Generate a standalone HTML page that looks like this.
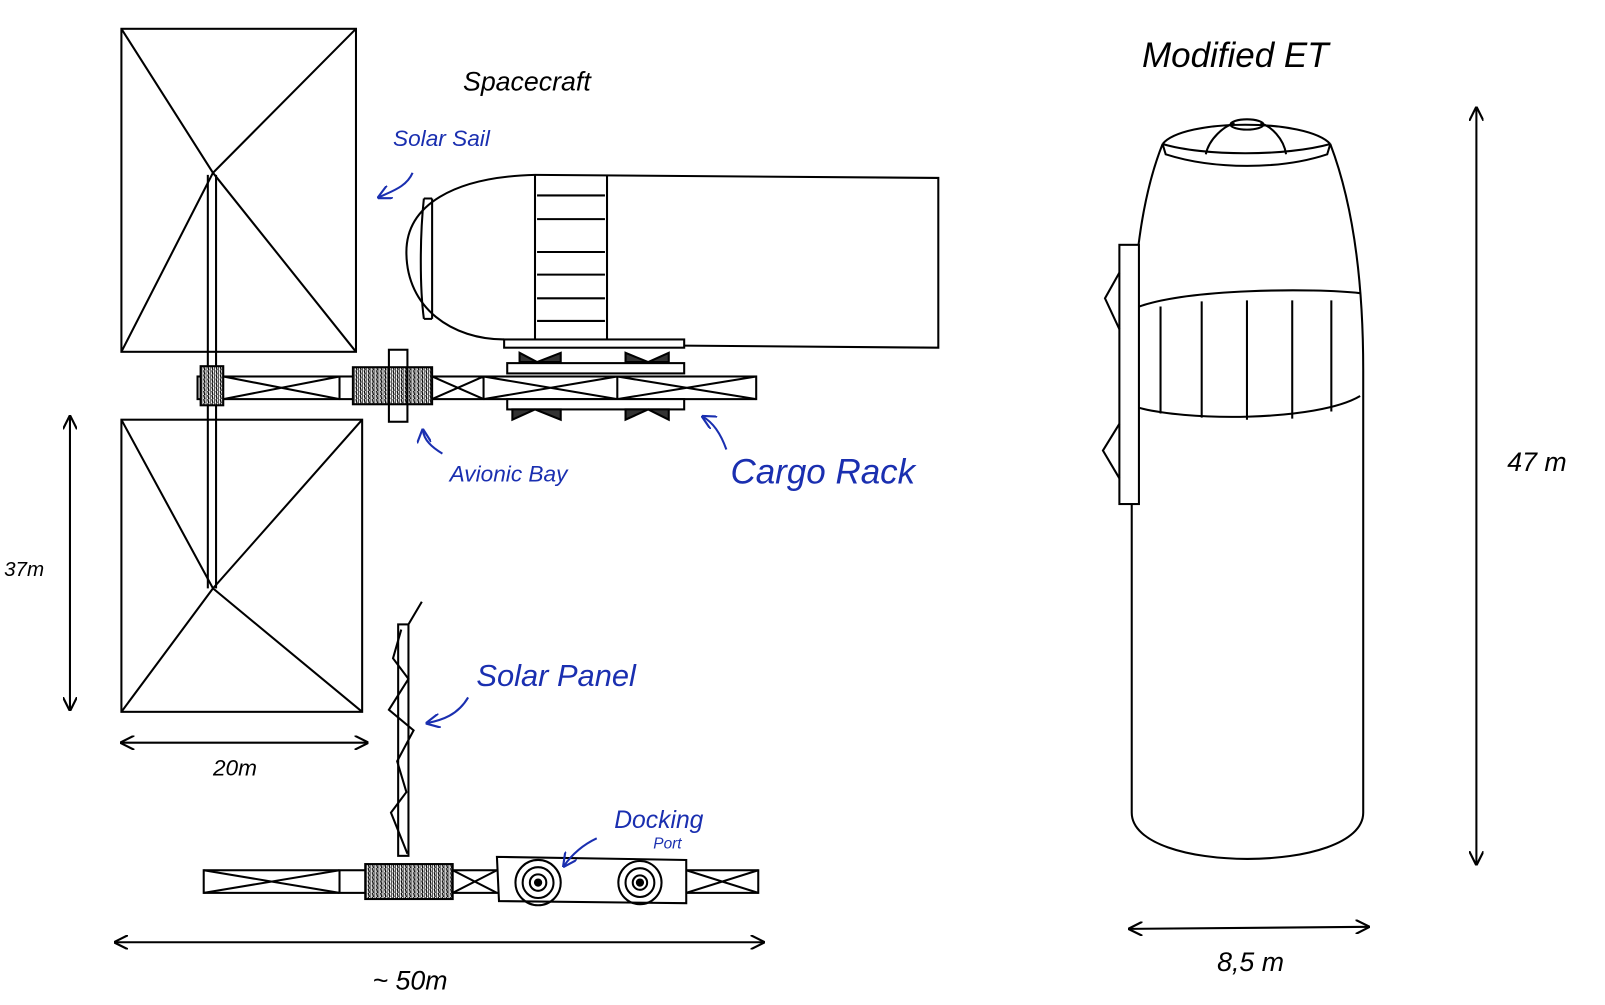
<!DOCTYPE html>
<html><head><meta charset="utf-8"><style>
html,body{margin:0;padding:0;background:#fff;}
svg{display:block;}
text{font-family:"Liberation Sans",sans-serif;font-style:italic;}
.b{fill:#1a2fb0;}
</style></head><body>
<svg width="1605" height="1005" viewBox="0 0 1560 977" preserveAspectRatio="none" xmlns="http://www.w3.org/2000/svg">
<defs>
<marker id="ah" viewBox="0 0 10 10" refX="9" refY="5" markerWidth="7" markerHeight="7" orient="auto-start-reverse"><path d="M0,0 L10,5 L0,10" fill="none" stroke="#000" stroke-width="1.5"/></marker>
<marker id="bh" viewBox="0 0 10 10" refX="9" refY="5" markerWidth="7" markerHeight="7" orient="auto"><path d="M0,0 L10,5 L0,10" fill="none" stroke="#1a2fb0" stroke-width="1.5"/></marker>
<pattern id="hatch" width="4" height="4" patternUnits="userSpaceOnUse"><rect width="4" height="4" fill="#fff"/><path d="M0,0 L0,4 M2,0 L3,4" stroke="#000" stroke-width="1.3"/></pattern>
</defs>
<g fill="none" stroke="#000" stroke-width="2">
<!-- top sail -->
<rect x="118" y="28" width="228" height="314"/>
<path d="M118,28 L207,168 L346,28 M118,342 L207,168 L346,342"/>
<!-- mast -->
<path d="M202,170 V572 M210,170 V572"/>
<!-- bottom sail -->
<rect x="118" y="408" width="234" height="284"/>
<path d="M118,408 L207,572 L352,408 M118,692 L207,572 L352,692"/>
<!-- top truss -->
<rect x="192" y="366" width="543" height="22"/>
<path d="M217,366 L330,388 M217,388 L330,366 M330,366V388 M420,366 L470,388 M420,388 L470,366 M470,366V388 M470,366 L600,388 M470,388 L600,366 M600,366V388 M600,366 L735,388 M600,388 L735,366"/>
<rect x="195" y="356" width="22" height="38" fill="url(#hatch)"/>
<rect x="343" y="357" width="77" height="36" fill="url(#hatch)"/>
<rect x="378" y="340" width="18" height="70"/>
<!-- cargo rack -->
<rect x="493" y="353" width="172" height="10" fill="#fff"/>
<rect x="493" y="388" width="172" height="10" fill="#fff"/>
<path d="M505,343 L522,352 L545,343 L545,352 L505,352Z M608,343 L630,352 L650,343 L650,352 L608,352Z" fill="#333"/>
<path d="M498,408 L520,398 L545,408 L545,398 L498,398Z M608,408 L630,398 L650,408 L650,398 L608,398Z" fill="#333"/>
<!-- cargo module -->
<path d="M520,170 L912,173 L912,338 L665,336"/>
<path d="M520,170 C440,172 395,200 395,245 C395,300 440,330 490,330"/>
<path d="M412,193 C408,230 408,280 412,310 M420,193 V310 M412,193 L420,193 M412,310 L420,310"/>
<path d="M520,170 V330 M590,170 V330 M522,190 H588 M522,213 H588 M522,245 H588 M522,267 H588 M522,290 H588 M522,312 H588"/>
<rect x="490" y="330" width="175" height="8" fill="#fff"/>
<!-- solar panel -->
<rect x="387" y="607" width="10" height="225"/>
<path d="M397,607 L410,585 M390,612 L382,640 L397,660 L378,690 L402,710 L386,740 L395,770 L380,790 L396,830"/>
<!-- bottom truss -->
<rect x="198" y="846" width="539" height="22"/>
<path d="M198,846 L330,868 M198,868 L330,846 M330,846V868 M440,846 L483,868 M440,868 L483,846 M667,846 L737,868 M667,868 L737,846"/>
<rect x="355" y="840" width="85" height="34" fill="url(#hatch)"/>
<path d="M483,833 L667,836 L667,878 L485,876Z" fill="#fff"/>
<circle cx="523" cy="858" r="22"/><circle cx="523" cy="858" r="15"/><circle cx="523" cy="858" r="8"/><circle cx="523" cy="858" r="3" fill="#000"/>
<circle cx="622" cy="858" r="21"/><circle cx="622" cy="858" r="14"/><circle cx="622" cy="858" r="7"/><circle cx="622" cy="858" r="3" fill="#000"/>
<!-- dims -->
<path d="M68,405 V690" marker-start="url(#ah)" marker-end="url(#ah)"/>
<path d="M118,722 H357" marker-start="url(#ah)" marker-end="url(#ah)"/>
<path d="M112,916 H742" marker-start="url(#ah)" marker-end="url(#ah)"/>
<path d="M1435,105 V840" marker-start="url(#ah)" marker-end="url(#ah)"/>
<path d="M1098,903 L1330,901" marker-start="url(#ah)" marker-end="url(#ah)"/>
<!-- ET -->
<path d="M1100,360 C1100,260 1110,190 1130,140 M1325,360 C1325,260 1312,190 1293,140 M1100,360 V790 C1100,850 1325,850 1325,790 V360"/>
<path d="M1130,140 L1133,150 C1180,165 1245,165 1290,150 L1293,140"/>
<path d="M1130,140 C1150,115 1270,115 1293,140 M1130,140 C1170,152 1250,152 1293,140"/>
<path d="M1172,150 C1175,135 1190,122 1200,120 M1250,150 C1248,135 1235,122 1225,120"/>
<ellipse cx="1212" cy="121" rx="16" ry="5"/>
<path d="M1102,300 C1150,280 1280,280 1322,285 M1102,395 C1150,410 1280,410 1322,385"/>
<path d="M1128,298 V402 M1168,293 V406 M1212,292 V408 M1256,292 V407 M1294,292 V400"/>
<rect x="1088" y="238" width="19" height="252" fill="#fff"/>
<path d="M1088,265 L1074,290 L1088,320 M1088,412 L1072,438 L1088,465"/>
</g>
<!-- annotation arrows -->
<g fill="none" stroke="#1a2fb0" stroke-width="2">
<path d="M401,168 C395,182 380,186 368,192" marker-end="url(#bh)"/>
<path d="M430,441 C420,435 412,428 411,418" marker-end="url(#bh)"/>
<path d="M706,437 C700,420 692,410 683,405" marker-end="url(#bh)"/>
<path d="M455,678 C445,695 430,700 415,703" marker-end="url(#bh)"/>
<path d="M580,815 C565,822 555,832 548,842" marker-end="url(#bh)"/>
</g>
<!-- labels -->
<text x="450" y="88" font-size="26">Spacecraft</text>
<text x="1110" y="65" font-size="34">Modified ET</text>
<text class="b" x="382" y="142" font-size="22">Solar Sail</text>
<text class="b" x="437" y="468" font-size="22">Avionic Bay</text>
<text class="b" x="710" y="470" font-size="34">Cargo Rack</text>
<text class="b" x="463" y="667" font-size="30">Solar Panel</text>
<text class="b" x="597" y="805" font-size="24">Docking</text>
<text class="b" x="635" y="825" font-size="15">Port</text>
<text x="4" y="560" font-size="20">37m</text>
<text x="207" y="754" font-size="22">20m</text>
<text x="362" y="962" font-size="26">~ 50m</text>
<text x="1465" y="458" font-size="26">47 m</text>
<text x="1183" y="944" font-size="26">8,5 m</text>
</svg>
</body></html>
